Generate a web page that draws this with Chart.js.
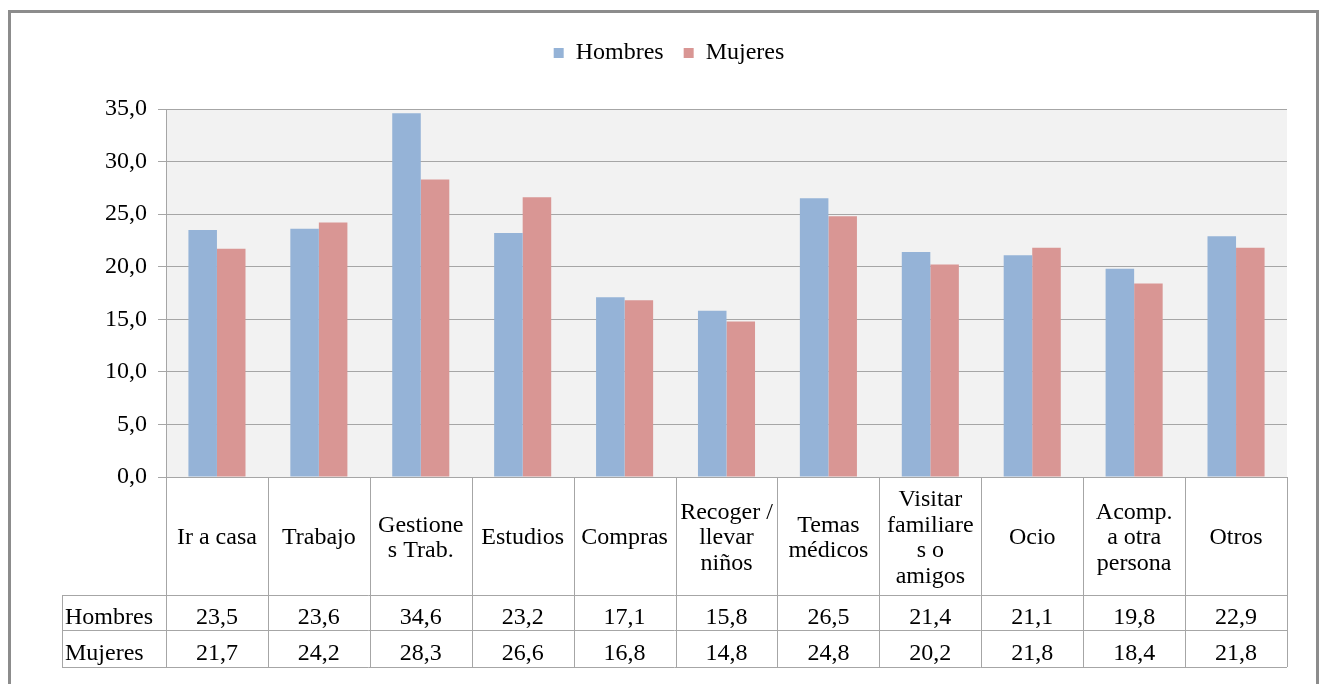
<!DOCTYPE html>
<html>
<head>
<meta charset="utf-8">
<script src="https://cdn.jsdelivr.net/npm/chart.js@4.4.1/dist/chart.umd.min.js"></script>
<style>
  html, body { margin: 0; padding: 0; background: #fff; overflow: hidden; }
  #frame { position: absolute; left: 8px; top: 10px; width: 1311px; height: 700px; border: 3px solid #8c8c8c; box-sizing: border-box; }
  #wrap { position: absolute; left: 0; top: 0; width: 1321px; height: 684px; }
</style>
</head>
<body>
<div id="frame"></div>
<div id="wrap"><canvas id="chart" width="1321" height="684"></canvas></div>
<script>
var categories = [
  ['Ir a casa'], ['Trabajo'], ['Gestione', 's Trab.'], ['Estudios'], ['Compras'],
  ['Recoger /', 'llevar', 'niños'], ['Temas', 'médicos'], ['Visitar', 'familiare', 's o', 'amigos'],
  ['Ocio'], ['Acomp.', 'a otra', 'persona'], ['Otros']
];
var hombres = [23.5, 23.6, 34.6, 23.2, 17.1, 15.8, 26.5, 21.4, 21.1, 19.8, 22.9];
var mujeres = [21.7, 24.2, 28.3, 26.6, 16.8, 14.8, 24.8, 20.2, 21.8, 18.4, 21.8];
var yTicks = [0, 5, 10, 15, 20, 25, 30, 35];

var FONT = '"Liberation Serif", "Times New Roman", serif';
var FONT_SIZE = 24;
var lineColor = '#a6a6a6';

function fmt(v) { return v.toFixed(1).replace('.', ','); }

// make room between legend and plot
var legendSpacer = {
  id: 'legendSpacer',
  beforeInit: function (chart) {
    var fit = chart.legend.fit;
    chart.legend.fit = function () {
      fit.call(this);
      this.height = 88;
    };
  }
};

var plotBackground = {
  id: 'plotBackground',
  beforeDraw: function (chart) {
    var a = chart.chartArea, ctx = chart.ctx;
    ctx.save();
    ctx.fillStyle = '#f2f2f2';
    ctx.fillRect(a.left, a.top, a.right - a.left, a.bottom - a.top);
    ctx.restore();
  }
};

// Excel style data table under the plot
var dataTable = {
  id: 'dataTable',
  afterDraw: function (chart) {
    var ctx = chart.ctx, a = chart.chartArea, x = chart.scales.x;
    var n = categories.length;
    var step = (a.right - a.left) / n;
    var top = a.bottom, labelBottom = top + 118, row1 = top + 153, bottom = top + 190;
    var nameLeft = 62;
    var series = [['Hombres', hombres], ['Mujeres', mujeres]];

    ctx.save();
    ctx.strokeStyle = lineColor;
    ctx.lineWidth = 1;
    ctx.beginPath();
    // horizontal lines
    ctx.moveTo(a.left, top + 0.5); ctx.lineTo(a.right, top + 0.5);
    [labelBottom, row1, bottom].forEach(function (yy) {
      ctx.moveTo(nameLeft, yy + 0.5); ctx.lineTo(a.right, yy + 0.5);
    });
    // vertical lines
    for (var i = 0; i <= n; i++) {
      var xx = Math.round(a.left + i * step) + 0.5;
      ctx.moveTo(xx, top); ctx.lineTo(xx, bottom);
    }
    ctx.moveTo(nameLeft + 0.5, labelBottom); ctx.lineTo(nameLeft + 0.5, bottom);
    ctx.stroke();

    ctx.fillStyle = '#000';
    ctx.font = FONT_SIZE + 'px ' + FONT;
    ctx.textBaseline = 'middle';
    // category labels
    ctx.textAlign = 'center';
    var lh = 25.5;
    categories.forEach(function (lines, i) {
      var cx = x.getPixelForValue(i);
      var cy = (top + labelBottom) / 2 + 2 - (lines.length - 1) * lh / 2;
      lines.forEach(function (t, k) { ctx.fillText(t, cx, cy + k * lh); });
    });
    // series rows
    var rows = [[labelBottom, row1], [row1, bottom]];
    series.forEach(function (s, r) {
      var cy = (rows[r][0] + rows[r][1]) / 2 + 5;
      ctx.textAlign = 'left';
      ctx.fillText(s[0], nameLeft + 3, cy);
      ctx.textAlign = 'center';
      s[1].forEach(function (v, i) { ctx.fillText(fmt(v), x.getPixelForValue(i), cy); });
    });
    ctx.restore();
  }
};

new Chart(document.getElementById('chart'), {
  type: 'bar',
  data: {
    labels: categories.map(function (c) { return c.join(' '); }),
    datasets: [
      { label: 'Hombres', data: hombres, backgroundColor: '#95b3d7', categoryPercentage: 0.56, barPercentage: 1 },
      { label: 'Mujeres', data: mujeres, backgroundColor: '#d99694', categoryPercentage: 0.56, barPercentage: 1 }
    ]
  },
  options: {
    responsive: false,
    animation: false,
    layout: { padding: { top: 21, left: 51, right: 34, bottom: 17 } },
    plugins: {
      legend: {
        position: 'top',
        labels: {
          boxWidth: 10,
          boxHeight: 10,
          padding: 20,
          color: '#000',
          font: { family: FONT, size: FONT_SIZE }
        }
      },
      tooltip: { enabled: false }
    },
    scales: {
      x: {
        grid: { display: false },
        border: { display: false },
        ticks: { display: false },
        afterFit: function (s) { s.height = 190; }
      },
      y: {
        min: 0,
        max: 35,
        afterBuildTicks: function (s) { s.ticks = yTicks.map(function (v) { return { value: v }; }); },
        afterFit: function (s) { s.width = 115; },
        grid: { color: lineColor, tickLength: 8 },
        border: { display: true, color: lineColor },
        ticks: {
          padding: 11,
          color: '#000',
          font: { family: FONT, size: FONT_SIZE },
          callback: function (v) { return fmt(v); }
        }
      }
    }
  },
  plugins: [legendSpacer, plotBackground, dataTable]
});
</script>
</body>
</html>
